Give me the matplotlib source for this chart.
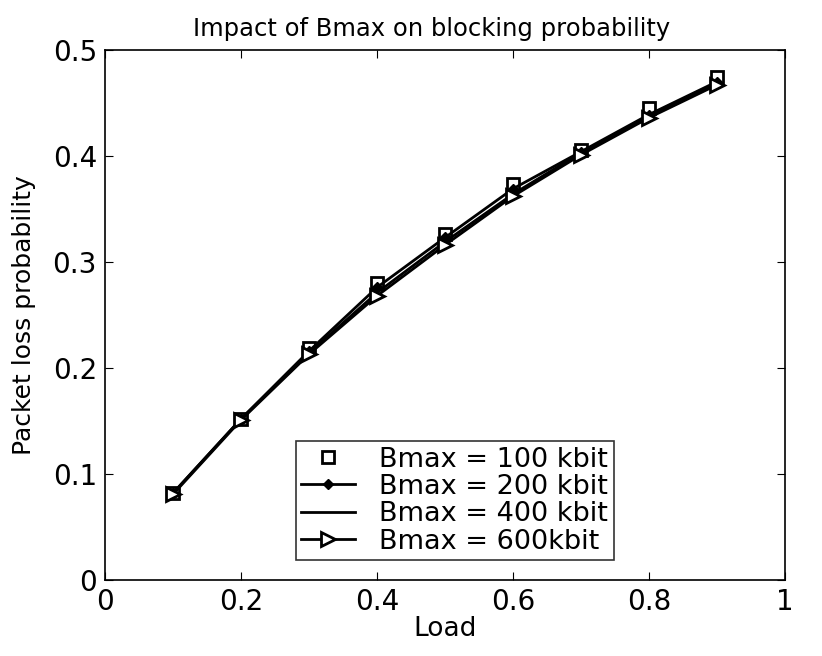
import matplotlib
matplotlib.use("Agg")
import matplotlib.pyplot as plt

load = [0.1, 0.2, 0.3, 0.4, 0.5, 0.6, 0.7, 0.8, 0.9]
b100 = [0.082, 0.152, 0.219, 0.280, 0.326, 0.373, 0.406, 0.445, 0.474]
b200 = [0.082, 0.152, 0.216, 0.276, 0.323, 0.369, 0.404, 0.439, 0.470]
b400 = [0.082, 0.152, 0.214, 0.271, 0.319, 0.364, 0.403, 0.437, 0.469]
b600 = [0.081, 0.151, 0.213, 0.268, 0.316, 0.362, 0.401, 0.436, 0.467]

labels = ["Bmax = 100 kbit", "Bmax = 200 kbit", "Bmax = 400 kbit", "Bmax = 600kbit"]

fig = plt.figure(figsize=(8.22, 6.56), dpi=100)
ax = fig.add_axes([0.128, 0.116, 0.827, 0.808])

ax.plot(load, b100, linestyle="none", marker="s", markersize=9, markerfacecolor="white",
        markeredgecolor="black", markeredgewidth=2, label=labels[0])
ax.plot(load, b200, color="black", lw=2, marker="D", markersize=5, label=labels[1])
ax.plot(load, b400, color="black", lw=2, label=labels[2])
ax.plot(load, b600, color="black", lw=2, marker=">", markersize=10, markerfacecolor="white",
        markeredgewidth=2, label=labels[3])

ax.set_xlim(0, 1)
ax.set_ylim(0, 0.5)
ax.set_xticks([0, 0.2, 0.4, 0.6, 0.8, 1])
ax.set_xticklabels(["0", "0.2", "0.4", "0.6", "0.8", "1"])
ax.set_yticks([0, 0.1, 0.2, 0.3, 0.4, 0.5])
ax.set_yticklabels(["0", "0.1", "0.2", "0.3", "0.4", "0.5"])
ax.tick_params(direction="in", labelsize=20, top=True, right=True, length=6, pad=6)
for s in ax.spines.values():
    s.set_linewidth(1.2)

ax.set_xlabel("Load", fontsize=19, labelpad=0)
ax.set_ylabel("Packet loss probability", fontsize=18, labelpad=12)
ax.set_title("Impact of Bmax on blocking probability", fontsize=17.5, pad=10, x=0.48)

leg = ax.legend(loc="lower left", bbox_to_anchor=(0.26, 0.012), fontsize=19.5,
                frameon=True, fancybox=False, edgecolor="black", handlelength=2.0,
                borderpad=0.2, labelspacing=0.05, handletextpad=0.9)
leg.get_frame().set_linewidth(1.2)

plt.savefig("out.png", dpi=100)
